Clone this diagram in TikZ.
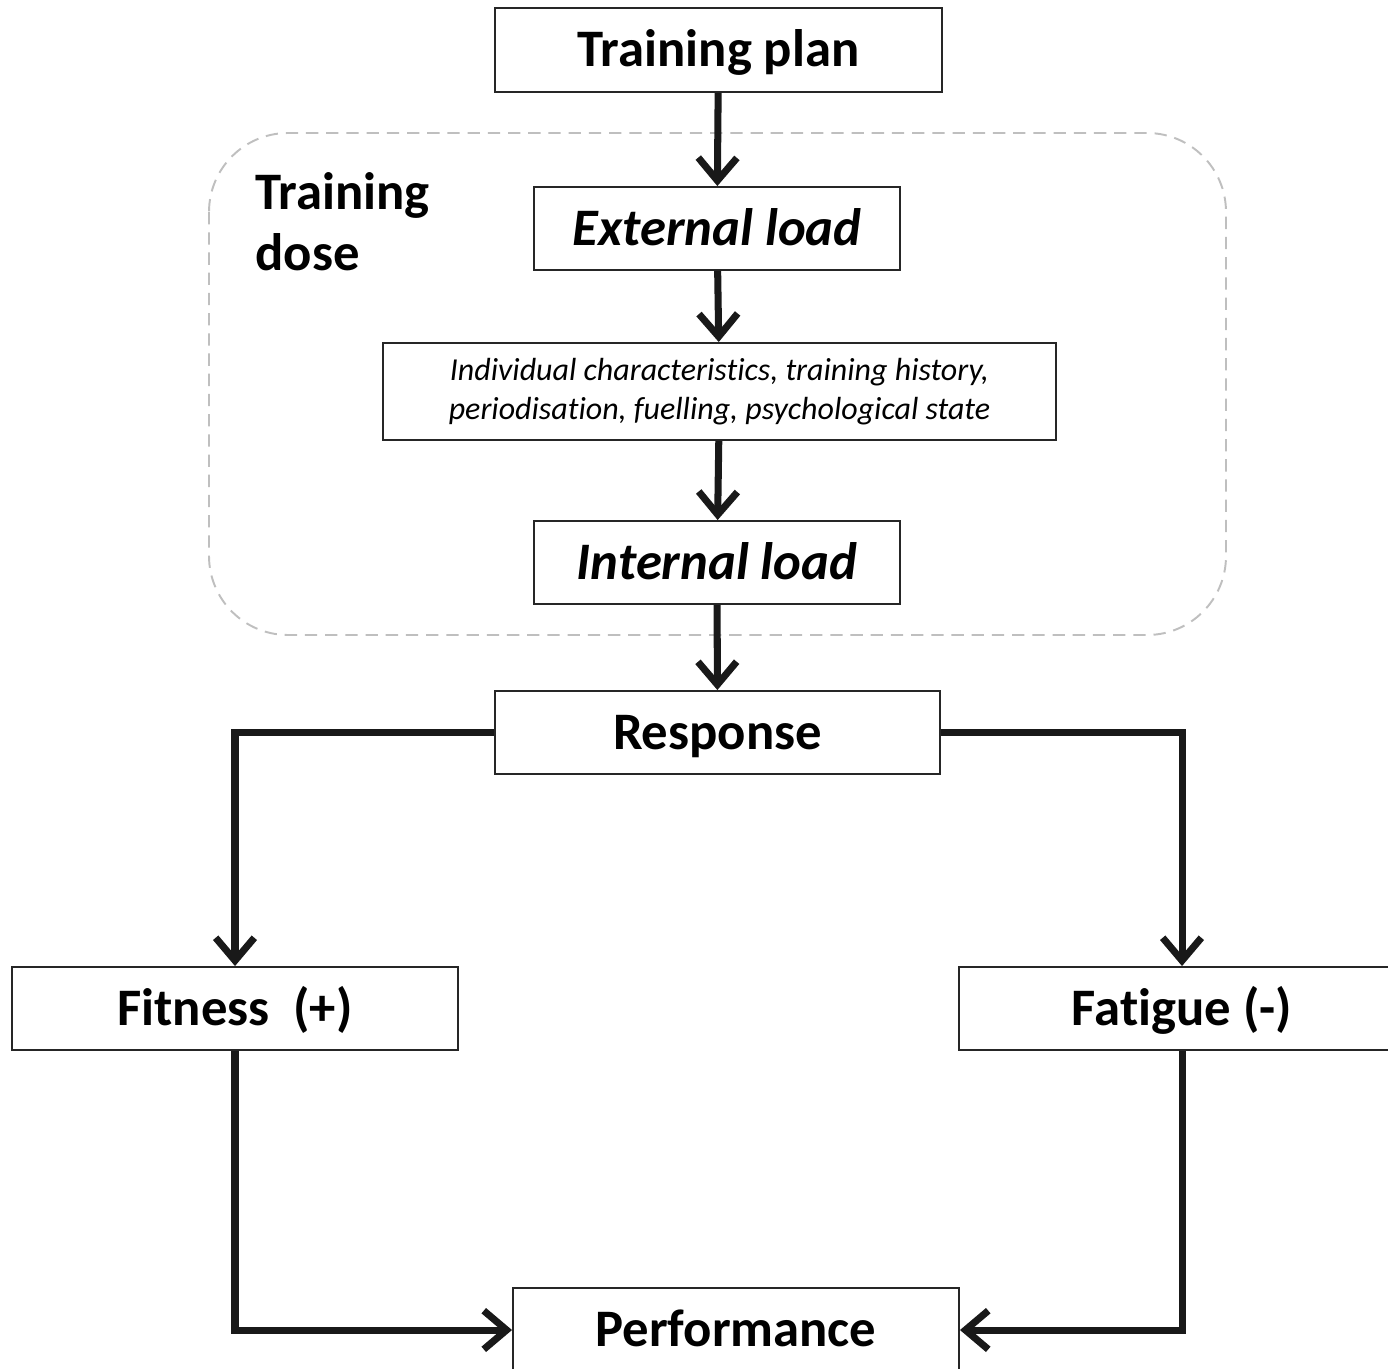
\documentclass[tikz,border=0pt]{standalone}
\usepackage{fontspec}
\setmainfont[Ligatures=NoCommon]{Carlito}
\usetikzlibrary{arrows.meta}

\tikzset{
  box/.style={draw=black!85, line width=1.1pt, fill=white, inner sep=0pt,
    text height=21.5pt, text depth=2.5pt,
    font=\fontsize{30}{34}\selectfont\bfseries},
  flow/.style={line width=4pt, black!90,
    -{Straight Barb[length=13pt,width=22pt]}},
}

\begin{document}
\begin{tikzpicture}[x=0.02cm, y=-0.02cm]
\useasboundingbox (0,0) rectangle (1388,1368);

\draw[black!25, line width=1.1pt, dash pattern=on 7pt off 4.5pt, rounded corners=45pt]
  (209,133) rectangle (1226,635);
\node[anchor=north west, align=left, inner sep=0pt,
  font=\fontsize{30}{35}\selectfont\bfseries] (dose) at (255,172) {Training\\dose};

\node[box, minimum width=447*0.02cm, minimum height=84*0.02cm] (plan) at (718.5,50) {Training plan};
\node[box, minimum width=366*0.02cm, minimum height=83*0.02cm] (ext) at (717,228.5) {\itshape External load};
\node[box, minimum width=673*0.02cm, minimum height=97*0.02cm, align=center,
  text height=, text depth=,
  font=\fontsize{18.2}{22}\selectfont\itshape] (indiv) at (719.5,391.5)
  {Individual characteristics, training history,\\periodisation, fuelling, psychological state};
\node[box, minimum width=366*0.02cm, minimum height=83*0.02cm] (int) at (717,562.5) {\itshape Internal load};
\node[box, minimum width=445*0.02cm, minimum height=83*0.02cm] (resp) at (717.5,732.5) {Response};
\node[box, minimum width=446*0.02cm, minimum height=83*0.02cm] (fit) at (235,1008.5) {Fitness\ \ (+)};
\node[box, minimum width=446*0.02cm, minimum height=83*0.02cm] (fat) at (1182,1008.5) {Fatigue (-)};
\node[box, minimum width=446*0.02cm, minimum height=84*0.02cm] (perf) at (736,1330) {Performance};

\draw[flow] (plan) -- (ext);
\draw[flow] (ext) -- (indiv);
\draw[flow] (indiv) -- (int);
\draw[flow] (int) -- (resp);
\draw[flow] (resp.west) -| (fit.north);
\draw[flow] (resp.east) -| (fat.north);
\draw[flow] (fit.south) |- (perf.west);
\draw[flow] (fat.south) |- (perf.east);

\end{tikzpicture}
\end{document}
